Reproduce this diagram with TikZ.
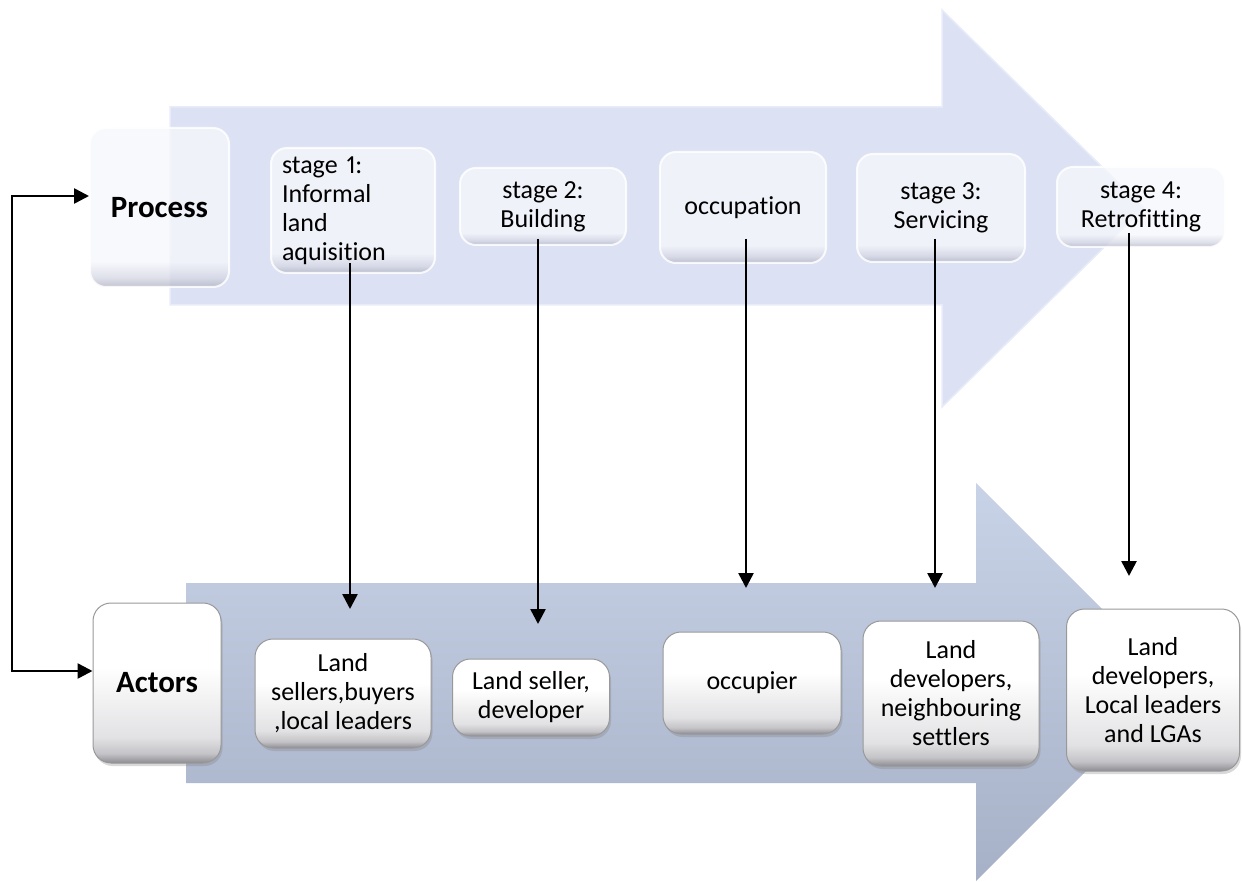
\documentclass[tikz,border=0pt]{standalone}
\usepackage{fontspec}
\setmainfont{Carlito}[Ligatures=NoCommon, Numbers=Proportional]
\usetikzlibrary{arrows.meta,shadows,calc}
\definecolor{toparrow}{RGB}{220,226,243}
\definecolor{toparrowedge}{RGB}{232,236,249}
\definecolor{botarrowtop}{RGB}{200,211,232}
\definecolor{botarrowbot}{RGB}{166,176,198}
\definecolor{bevdark}{RGB}{178,180,196}
\definecolor{bevmid}{RGB}{214,216,228}
\definecolor{bevlight}{RGB}{246,247,252}
\definecolor{bbdark}{RGB}{140,140,146}
\definecolor{bbmid}{RGB}{196,196,200}
\definecolor{bblow}{RGB}{226,226,228}
\pgfdeclareverticalshading{topbev}{100bp}{color(0bp)=(bevdark); color(25bp)=(bevdark); color(28bp)=(bevmid); color(33bp)=(bevlight); color(75bp)=(bevlight); color(100bp)=(bevlight)}
\pgfdeclareverticalshading{botbev}{100bp}{color(0bp)=(bbdark); color(25bp)=(bbdark); color(28bp)=(bbmid); color(33bp)=(bblow); color(55bp)=(white); color(75bp)=(white); color(100bp)=(white)}
\tikzset{
  topbox/.style={rounded corners=16pt, shading=topbev, fill opacity=0.8, text opacity=1,
    draw=white, draw opacity=0.85, line width=2pt, inner sep=4pt, align=center,
    font=\fontsize{26}{29}\selectfont},
  botbox/.style={rounded corners=18pt, shading=botbev, draw=gray!80, line width=1pt,
    drop shadow={opacity=0.3, shadow xshift=1.5pt, shadow yshift=-3pt},
    inner sep=4pt, align=center, font=\fontsize{26}{29}\selectfont},
  headtxt/.style={font=\fontsize{31}{36}\selectfont\bfseries},
  arr/.style={line width=2.6pt, -{Triangle[length=15pt,width=15pt]}},
  dblarr/.style={line width=2.6pt, {Triangle[length=15pt,width=15pt]}-{Triangle[length=15pt,width=15pt]}},
}
\begin{document}
\begin{tikzpicture}[x=1pt,y=-1pt]
\useasboundingbox (0,0) rectangle (1242,882);
% big arrows
\fill[toparrow, draw=toparrowedge, line width=1.5pt]
  (170,107) -- (942,107) -- (942,10) -- (1144,208) -- (942,407) -- (942,305) -- (170,305) -- cycle;
\shade[top color=botarrowtop, bottom color=botarrowbot]
  (186,583) -- (976,583) -- (976,483) -- (1175,682) -- (976,881) -- (976,783) -- (186,783) -- cycle;
% process row
\node[topbox, headtxt, minimum width=139pt, minimum height=159pt] (pr) at (159.5,207.5) {Process};
\node[topbox, minimum width=164pt, minimum height=125pt, text width=142pt, align=left, inner xsep=11pt] (s1) at (353,210.5) {stage 1:\\Informal\\land\\aquisition};
\node[topbox, minimum width=166pt, minimum height=77pt] (s2) at (543,206.5) {stage 2:\\Building};
\node[topbox, minimum width=166pt, minimum height=111pt] (s3) at (743,207.5) {occupation};
\node[topbox, minimum width=168pt, minimum height=108pt] (s4) at (941,208) {stage 3:\\Servicing};
\node[topbox, minimum width=168pt, minimum height=80pt] (s5) at (1141,207) {stage 4:\\Retrofitting};
% actors row
\node[botbox, headtxt, minimum width=128pt, minimum height=160pt] (ac) at (157,683) {Actors};
\node[botbox, minimum width=176pt, minimum height=109pt] (a1) at (343,693.5) {Land\\sellers,buyers\\,local leaders};
\node[botbox, minimum width=157pt, minimum height=77pt] (a2) at (531,697.5) {Land seller,\\developer};
\node[botbox, minimum width=178pt, minimum height=102pt] (a3) at (752,683) {occupier};
\node[botbox, minimum width=176pt, minimum height=145pt] (a4) at (951,693.5) {Land\\developers,\\neighbouring\\settlers};
\node[botbox, minimum width=173pt, minimum height=162pt] (a5) at (1153,690) {Land\\developers,\\Local leaders\\and LGAs};
% arrow end points
\coordinate (e1) at (350,609);
\coordinate (e2) at (538,624);
\coordinate (e3) at (746,588);
\coordinate (e4) at (935,588);
\coordinate (e5) at (1129,576);
\coordinate (L) at (12,400);
\draw[arr] (e1 |- s1.south) ++(0,-11) -- (e1);
\draw[arr] (e2 |- s2.south) ++(0,-7) -- (e2);
\draw[arr] (e3 |- s3.south) ++(0,-25) -- (e3);
\draw[arr] (e4 |- s4.south) ++(0,-24) -- (e4);
\draw[arr] (e5 |- s5.south) ++(0,-15) -- (e5);
\draw[dblarr] ([yshift=11.5pt]pr.west) -| (L) |- ([yshift=12pt]ac.west);
\end{tikzpicture}
\end{document}
